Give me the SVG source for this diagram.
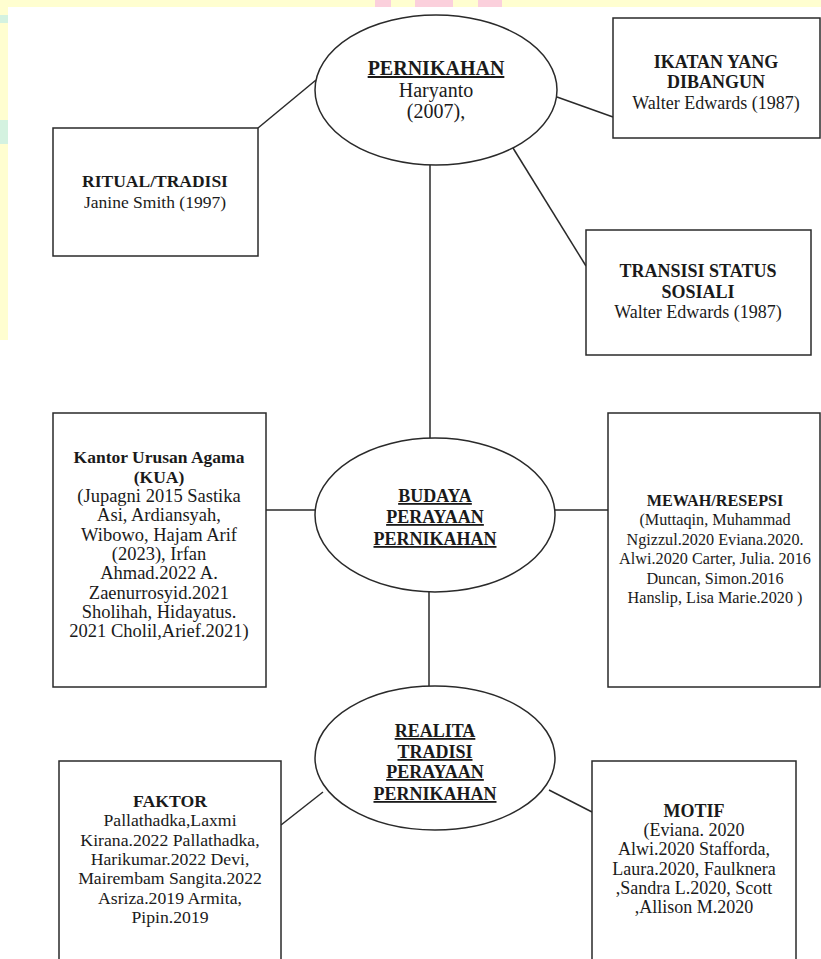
<svg xmlns="http://www.w3.org/2000/svg" width="821" height="959" viewBox="0 0 821 959">
<style>
  .bg{fill:#ffffff}
  .box{fill:#ffffff;stroke:#2a2a2a;stroke-width:1.5}
  .ell{fill:#ffffff;stroke:#2a2a2a;stroke-width:1.5}
  .con{stroke:#2a2a2a;stroke-width:1.5;fill:none}
  text{font-family:"Liberation Serif","Times New Roman",serif;fill:#1a1a1a;text-anchor:middle}
  .b{font-weight:bold}
  .u{font-weight:bold;text-decoration:underline}
</style>
<rect class="bg" x="0" y="0" width="821" height="959"/>
<g id="watermark">
  <rect x="0" y="0" width="821" height="7" fill="#fffed0"/>
  <rect x="0" y="0" width="8" height="340" fill="#fffed0"/>
  <rect x="375" y="0" width="16" height="7" fill="#fbd0dc"/>
  <rect x="415" y="0" width="38" height="7" fill="#fbd0dc"/>
  <rect x="478" y="0" width="24" height="7" fill="#fbd0dc"/>
  <rect x="0" y="120" width="8" height="24" fill="#d4f2e0"/>
  <rect x="0" y="15" width="8" height="8" fill="#d4f2e0"/>
</g>
<g id="connectors">
  <line class="con" x1="316" y1="80" x2="258" y2="128"/>
  <line class="con" x1="557" y1="97" x2="613" y2="117"/>
  <line class="con" x1="513" y1="148" x2="586" y2="266"/>
  <line class="con" x1="430" y1="165" x2="430" y2="438"/>
  <line class="con" x1="266" y1="510" x2="315" y2="510"/>
  <line class="con" x1="555" y1="510" x2="608" y2="510"/>
  <line class="con" x1="429" y1="592" x2="429" y2="686"/>
  <line class="con" x1="281" y1="825" x2="323" y2="792"/>
  <line class="con" x1="549" y1="790" x2="592" y2="812"/>
</g>
<g id="pernikahan">
  <ellipse class="ell" cx="436" cy="90" rx="121" ry="75"/>
  <text x="436" y="75" class="u" font-size="20">PERNIKAHAN</text>
  <text x="436" y="97" font-size="20">Haryanto</text>
  <text x="436" y="118" font-size="20">(2007),</text>
</g>
<g id="ritual">
  <rect class="box" x="53" y="128" width="205" height="128"/>
  <text x="155" y="187" class="b" font-size="17.5">RITUAL/TRADISI</text>
  <text x="155" y="208" font-size="17.5">Janine Smith (1997)</text>
</g>
<g id="ikatan">
  <rect class="box" x="613" y="18" width="207" height="120"/>
  <text x="716" y="68" class="b" font-size="18">IKATAN YANG</text>
  <text x="716" y="88" class="b" font-size="18">DIBANGUN</text>
  <text x="716" y="109" font-size="18">Walter Edwards (1987)</text>
</g>
<g id="transisi">
  <rect class="box" x="586" y="230" width="225" height="125"/>
  <text x="698" y="277" class="b" font-size="18">TRANSISI STATUS</text>
  <text x="698" y="298" class="b" font-size="18">SOSIALI</text>
  <text x="698" y="318" font-size="18">Walter Edwards (1987)</text>
</g>
<g id="kua">
  <rect class="box" x="53" y="413" width="213" height="274"/>
  <text x="159" y="463" class="b" font-size="17.5">Kantor Urusan Agama</text>
  <text x="159" y="483" class="b" font-size="17.5">(KUA)</text>
  <text x="159" y="502" font-size="18.5">(Jupagni 2015 Sastika</text>
  <text x="159" y="521" font-size="18.5">Asi, Ardiansyah,</text>
  <text x="159" y="541" font-size="18.5">Wibowo, Hajam Arif</text>
  <text x="159" y="560" font-size="18.5">(2023), Irfan</text>
  <text x="159" y="579" font-size="18.5">Ahmad.2022 A.</text>
  <text x="159" y="599" font-size="18.5">Zaenurrosyid.2021</text>
  <text x="159" y="618" font-size="18.5">Sholihah, Hidayatus.</text>
  <text x="159" y="637" font-size="18.5">2021 Cholil,Arief.2021)</text>
</g>
<g id="budaya">
  <ellipse class="ell" cx="435" cy="515" rx="120" ry="77"/>
  <text x="435" y="502" class="u" font-size="18">BUDAYA</text>
  <text x="435" y="523" class="u" font-size="18">PERAYAAN</text>
  <text x="435" y="545" class="u" font-size="18">PERNIKAHAN</text>
</g>
<g id="mewah">
  <rect class="box" x="608" y="413" width="212" height="274"/>
  <text x="715" y="506" class="b" font-size="16.2">MEWAH/RESEPSI</text>
  <text x="715" y="525" font-size="16.2">(Muttaqin, Muhammad</text>
  <text x="715" y="545" font-size="16.2">Ngizzul.2020 Eviana.2020.</text>
  <text x="715" y="564" font-size="16.2">Alwi.2020 Carter, Julia. 2016</text>
  <text x="715" y="584" font-size="16.2">Duncan, Simon.2016</text>
  <text x="715" y="603" font-size="16.2">Hanslip, Lisa Marie.2020 )</text>
</g>
<g id="realita">
  <ellipse class="ell" cx="435" cy="758" rx="120" ry="72"/>
  <text x="435" y="737" class="u" font-size="18">REALITA</text>
  <text x="435" y="758" class="u" font-size="18">TRADISI</text>
  <text x="435" y="778" class="u" font-size="18">PERAYAAN</text>
  <text x="435" y="800" class="u" font-size="18">PERNIKAHAN</text>
</g>
<g id="faktor">
  <rect class="box" x="59" y="761" width="222" height="220"/>
  <text x="170" y="807" class="b" font-size="17.7">FAKTOR</text>
  <text x="170" y="826" font-size="17.7">Pallathadka,Laxmi</text>
  <text x="170" y="846" font-size="17.7">Kirana.2022 Pallathadka,</text>
  <text x="170" y="865" font-size="17.7">Harikumar.2022 Devi,</text>
  <text x="170" y="884" font-size="17.7">Mairembam Sangita.2022</text>
  <text x="170" y="904" font-size="17.7">Asriza.2019 Armita,</text>
  <text x="170" y="923" font-size="17.7">Pipin.2019</text>
</g>
<g id="motif">
  <rect class="box" x="592" y="761" width="204" height="220"/>
  <text x="694" y="817" class="b" font-size="18">MOTIF</text>
  <text x="694" y="836" font-size="18">(Eviana. 2020</text>
  <text x="694" y="855" font-size="18">Alwi.2020 Stafforda,</text>
  <text x="694" y="875" font-size="18">Laura.2020, Faulknera</text>
  <text x="694" y="894" font-size="18">,Sandra L.2020, Scott</text>
  <text x="694" y="913" font-size="18">,Allison M.2020</text>
</g>
</svg>
